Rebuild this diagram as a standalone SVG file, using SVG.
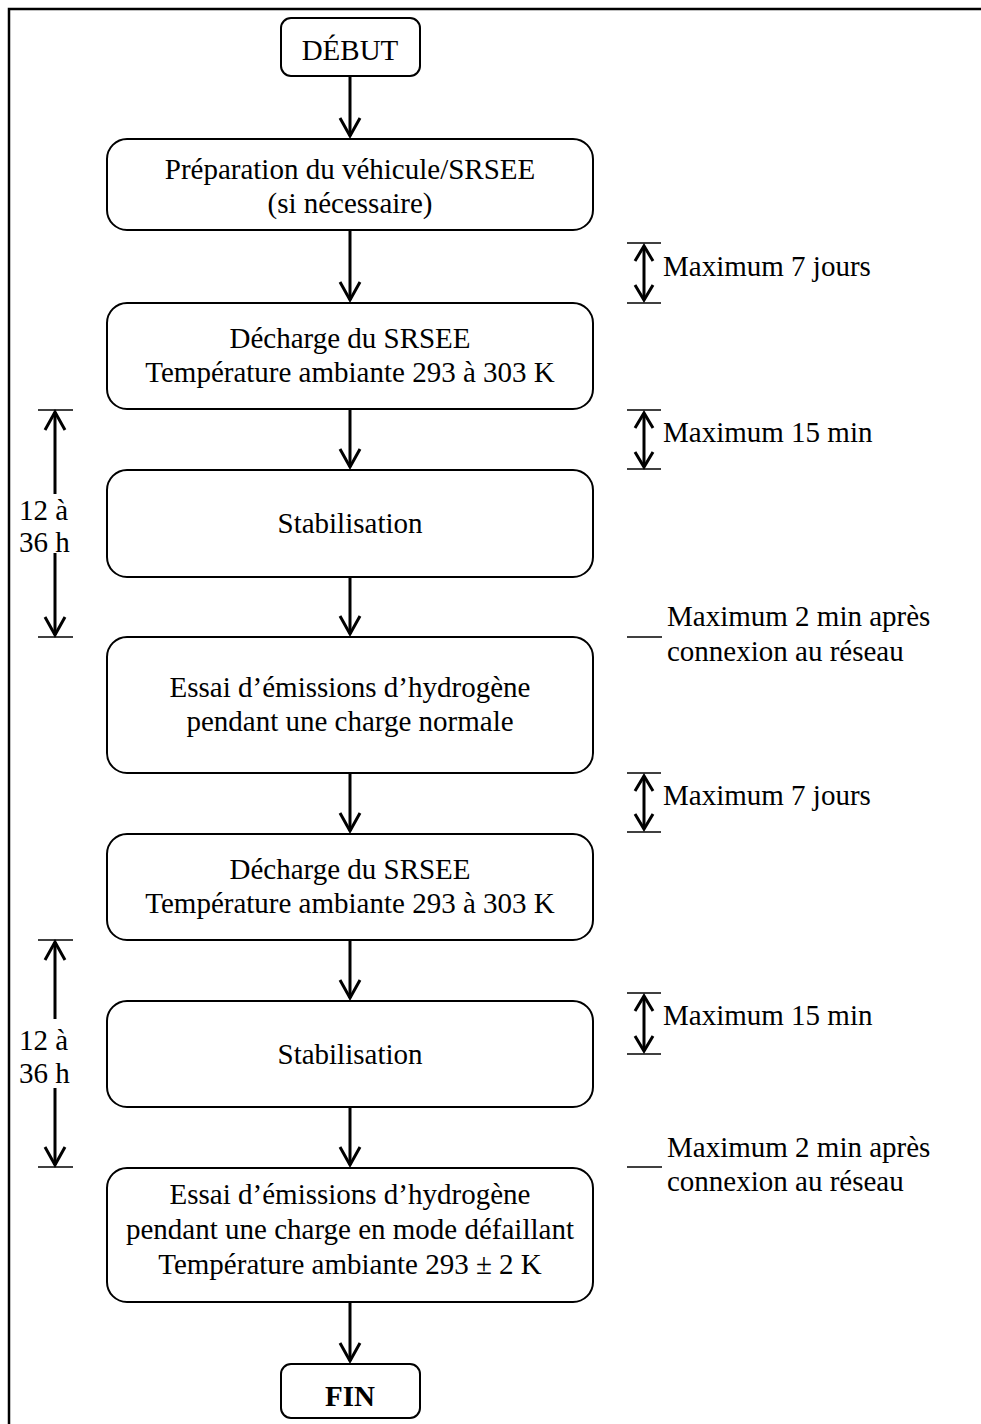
<svg xmlns="http://www.w3.org/2000/svg" width="981" height="1424" viewBox="0 0 981 1424">
<style>
  .box { fill: #fff; stroke: #000; stroke-width: 2; }
  .t { font-family: "Liberation Serif", "Times New Roman", serif; font-size: 29px; fill: #000; }
  .c { text-anchor: middle; }
  .b { font-weight: bold; }
  .flow { stroke: #000; stroke-width: 3; fill: none; marker-end: url(#chev); }
  .dim { stroke: #000; stroke-width: 3; fill: none; }
  .bar { stroke: #000; stroke-width: 1.6; fill: none; }
  .frame { stroke: #000; stroke-width: 2.5; fill: none; }
</style>
<defs>
  <marker id="chev" markerUnits="userSpaceOnUse" orient="auto-start-reverse" refX="0" refY="0" markerWidth="40" markerHeight="40" overflow="visible">
    <path d="M-18,-10 L0,0 L-18,10" fill="none" stroke="#000" stroke-width="3" stroke-linejoin="miter"/>
  </marker>
  <marker id="chevs" markerUnits="userSpaceOnUse" orient="auto-start-reverse" refX="0" refY="0" markerWidth="40" markerHeight="40" overflow="visible">
    <path d="M-15,-9 L0,0 L-15,9" fill="none" stroke="#000" stroke-width="3" stroke-linejoin="miter"/>
  </marker>
</defs>
<rect width="981" height="1424" fill="#fff"/>
<path class="frame" d="M9,1424 L9,9 L981,9"/>

<g id="connectors">
  <line class="flow" x1="350" y1="76" x2="350" y2="136"/>
  <line class="flow" x1="350" y1="230" x2="350" y2="300"/>
  <line class="flow" x1="350" y1="409" x2="350" y2="467"/>
  <line class="flow" x1="350" y1="577" x2="350" y2="634"/>
  <line class="flow" x1="350" y1="773" x2="350" y2="831"/>
  <line class="flow" x1="350" y1="940" x2="350" y2="998"/>
  <line class="flow" x1="350" y1="1107" x2="350" y2="1165"/>
  <line class="flow" x1="350" y1="1302" x2="350" y2="1361"/>
</g>

<g id="n-debut">
  <rect class="box" x="281" y="18" width="139" height="58" rx="10"/>
  <text class="t c" x="350" y="60">DÉBUT</text>
</g>
<g id="n-preparation">
  <rect class="box" x="107" y="139" width="486" height="91" rx="20"/>
  <text class="t c" x="350" y="179">Préparation du véhicule/SRSEE</text>
  <text class="t c" x="350" y="213">(si nécessaire)</text>
</g>
<g id="n-decharge1">
  <rect class="box" x="107" y="303" width="486" height="106" rx="20"/>
  <text class="t c" x="350" y="348">Décharge du SRSEE</text>
  <text class="t c" x="350" y="382">Température ambiante 293 à 303 K</text>
</g>
<g id="n-stab1">
  <rect class="box" x="107" y="470" width="486" height="107" rx="20"/>
  <text class="t c" x="350" y="533">Stabilisation</text>
</g>
<g id="n-essai1">
  <rect class="box" x="107" y="637" width="486" height="136" rx="20"/>
  <text class="t c" x="350" y="697">Essai d’émissions d’hydrogène</text>
  <text class="t c" x="350" y="731">pendant une charge normale</text>
</g>
<g id="n-decharge2">
  <rect class="box" x="107" y="834" width="486" height="106" rx="20"/>
  <text class="t c" x="350" y="879">Décharge du SRSEE</text>
  <text class="t c" x="350" y="913">Température ambiante 293 à 303 K</text>
</g>
<g id="n-stab2">
  <rect class="box" x="107" y="1001" width="486" height="106" rx="20"/>
  <text class="t c" x="350" y="1064">Stabilisation</text>
</g>
<g id="n-essai2">
  <rect class="box" x="107" y="1168" width="486" height="134" rx="20"/>
  <text class="t c" x="350" y="1204">Essai d’émissions d’hydrogène</text>
  <text class="t c" x="350" y="1239">pendant une charge en mode défaillant</text>
  <text class="t c" x="350" y="1274">Température ambiante 293 ± 2 K</text>
</g>
<g id="n-fin">
  <rect class="box" x="281" y="1364" width="139" height="54" rx="10"/>
  <text class="t c b" x="350" y="1406">FIN</text>
</g>

<g id="left-dim-1">
  <line class="bar" x1="38" y1="410" x2="73" y2="410"/>
  <line class="dim" x1="55" y1="494" x2="55" y2="412" marker-end="url(#chev)"/>
  <text class="t" x="19" y="520">12 à</text>
  <text class="t" x="19" y="552">36 h</text>
  <line class="dim" x1="55" y1="553" x2="55" y2="635" marker-end="url(#chev)"/>
  <line class="bar" x1="38" y1="637" x2="73" y2="637"/>
</g>
<g id="left-dim-2">
  <line class="bar" x1="38" y1="940" x2="73" y2="940"/>
  <line class="dim" x1="55" y1="1019" x2="55" y2="942" marker-end="url(#chev)"/>
  <text class="t" x="19" y="1050">12 à</text>
  <text class="t" x="19" y="1083">36 h</text>
  <line class="dim" x1="55" y1="1088" x2="55" y2="1165" marker-end="url(#chev)"/>
  <line class="bar" x1="38" y1="1167" x2="73" y2="1167"/>
</g>

<g id="right-dim-1">
  <line class="bar" x1="627" y1="243" x2="661" y2="243"/>
  <line class="dim" x1="644" y1="246" x2="644" y2="300" marker-start="url(#chevs)" marker-end="url(#chevs)"/>
  <line class="bar" x1="627" y1="303" x2="661" y2="303"/>
  <text class="t" x="663" y="276">Maximum 7 jours</text>
</g>
<g id="right-dim-2">
  <line class="bar" x1="627" y1="410" x2="661" y2="410"/>
  <line class="dim" x1="644" y1="413" x2="644" y2="467" marker-start="url(#chevs)" marker-end="url(#chevs)"/>
  <line class="bar" x1="627" y1="469" x2="661" y2="469"/>
  <text class="t" x="663" y="442">Maximum 15 min</text>
</g>
<g id="right-dim-3">
  <line class="bar" x1="627" y1="637" x2="662" y2="637"/>
  <text class="t" x="667" y="626">Maximum 2 min après</text>
  <text class="t" x="667" y="661">connexion au réseau</text>
</g>
<g id="right-dim-4">
  <line class="bar" x1="627" y1="773" x2="661" y2="773"/>
  <line class="dim" x1="644" y1="776" x2="644" y2="829" marker-start="url(#chevs)" marker-end="url(#chevs)"/>
  <line class="bar" x1="627" y1="832" x2="661" y2="832"/>
  <text class="t" x="663" y="805">Maximum 7 jours</text>
</g>
<g id="right-dim-5">
  <line class="bar" x1="627" y1="993" x2="661" y2="993"/>
  <line class="dim" x1="644" y1="996" x2="644" y2="1051" marker-start="url(#chevs)" marker-end="url(#chevs)"/>
  <line class="bar" x1="627" y1="1054" x2="661" y2="1054"/>
  <text class="t" x="663" y="1025">Maximum 15 min</text>
</g>
<g id="right-dim-6">
  <line class="bar" x1="627" y1="1167" x2="662" y2="1167"/>
  <text class="t" x="667" y="1157">Maximum 2 min après</text>
  <text class="t" x="667" y="1191">connexion au réseau</text>
</g>
</svg>
